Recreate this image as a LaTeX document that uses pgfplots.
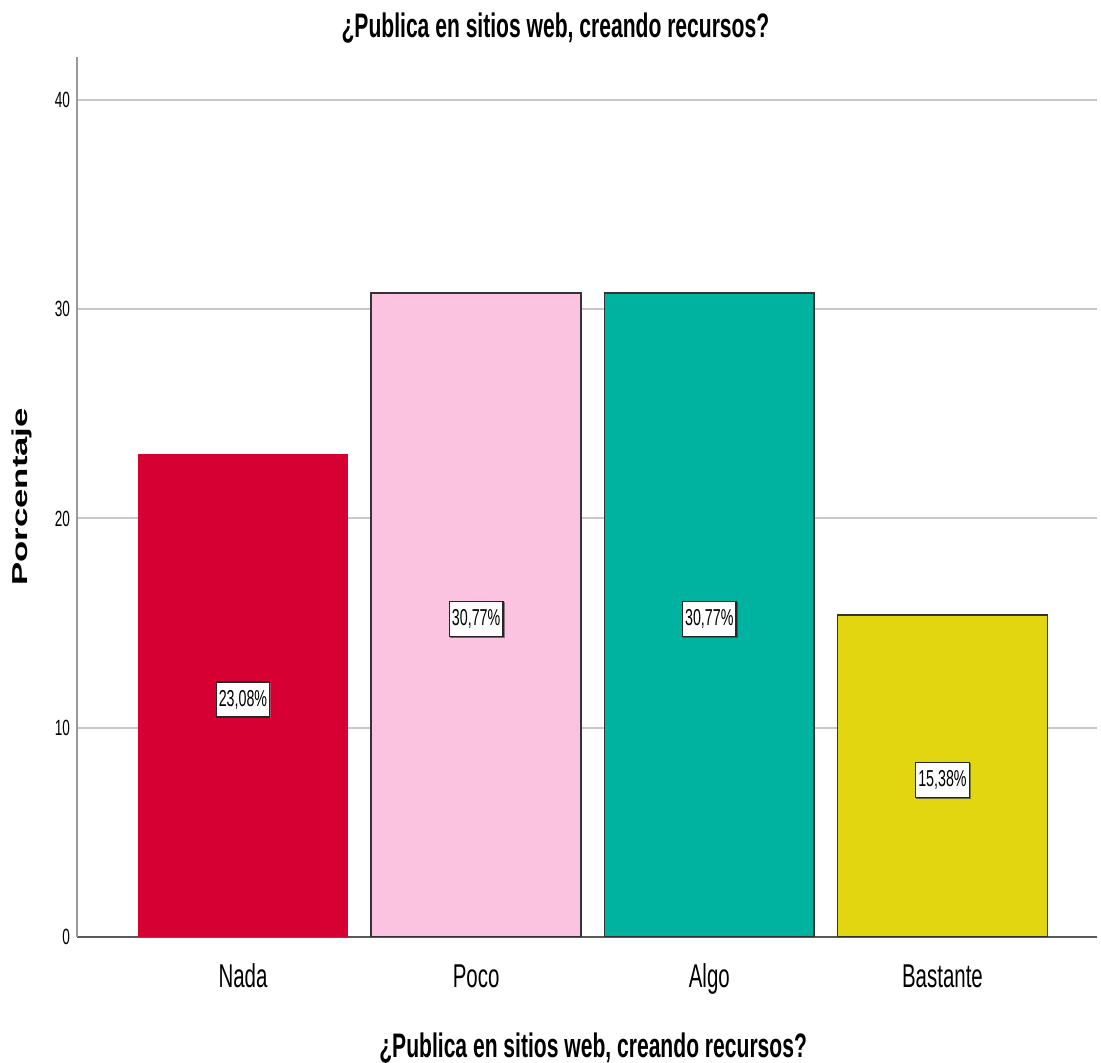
\documentclass[border=0pt]{standalone}
\usepackage{pgfplots}
\pgfplotsset{compat=1.18}
\usepackage{fontspec}
\setmainfont{Liberation Sans}
\newfontfamily\narrow{Liberation Sans}[FakeStretch=0.62]
\usetikzlibrary{shadows}
\definecolor{cNada}{RGB}{214,0,50}
\definecolor{cPoco}{RGB}{252,195,225}
\definecolor{cAlgo}{RGB}{0,178,160}
\definecolor{cBast}{RGB}{226,214,16}
\begin{document}
\begin{tikzpicture}
\path[use as bounding box] (0,0) rectangle (550.5pt,531.5pt);
\begin{axis}[
  at={(38.5pt,63pt)}, anchor=south west,
  scale only axis, width=510pt, height=440pt,
  xmin=-0.712, xmax=3.663, ymin=0, ymax=42.05,
  ybar, bar width=0.9, bar shift=0pt,
  axis x line*=bottom, axis y line*=left,
  x axis line style={-, draw=black!65, line width=0.8pt},
  y axis line style={-, draw=black!40, line width=0.8pt},
  xtick={0,1,2,3}, xticklabels={Nada,Poco,Algo,Bastante},
  ytick={0,10,20,30,40},
  major tick length=0pt,
  ymajorgrids, grid style={draw=black!22, line width=1pt},
  xticklabel style={font=\narrow\fontsize{16.5}{18}\selectfont, anchor=base, yshift=-25.5pt},
  yticklabel style={font=\narrow\fontsize{11}{13}\selectfont},
  /pgf/number format/assume math mode=true,
  every axis title/.style={at={(axis description cs:0.469,1.033)}, anchor=center,
     font=\narrow\bfseries\fontsize{17}{19}\selectfont},
  every axis x label/.style={at={(axis description cs:0.506,-0.126)}, anchor=center,
     font=\narrow\bfseries\fontsize{17}{19}\selectfont},
  every axis y label/.style={at={(axis description cs:-0.0539,0.5)}, anchor=center, rotate=90},
  title={¿Publica en sitios web, creando recursos?},
  xlabel={¿Publica en sitios web, creando recursos?},
  ylabel={\scalebox{1}[0.62]{\bfseries\fontsize{17.4}{19}\selectfont Porcentaje}},
  visualization depends on={rawy \as \rawy},
  nodes near coords={\pgfmathprintnumber[fixed,fixed zerofill,precision=2,use comma]{\pgfplotspointmeta}\%},
  every node near coord/.append style={anchor=center, yshift={-\rawy*5.2319pt-2pt},
     fill=white, draw=black!85, line width=0.6pt, inner xsep=1.3pt, inner ysep=4pt, text=black,
     font=\narrow\fontsize{11.5}{13}\selectfont,
     drop shadow={shadow xshift=0.6pt, shadow yshift=-0.6pt, fill=black!45}},
]
\addplot[fill=cNada, draw=none] coordinates {(0,23.08)};
\addplot[fill=cPoco, draw=black!80, line width=0.8pt] coordinates {(1,30.77)};
\addplot[fill=cAlgo, draw=black!80, line width=0.8pt] coordinates {(2,30.77)};
\addplot[fill=cBast, draw=black!80, line width=0.8pt] coordinates {(3,15.38)};
\end{axis}
\end{tikzpicture}
\end{document}
